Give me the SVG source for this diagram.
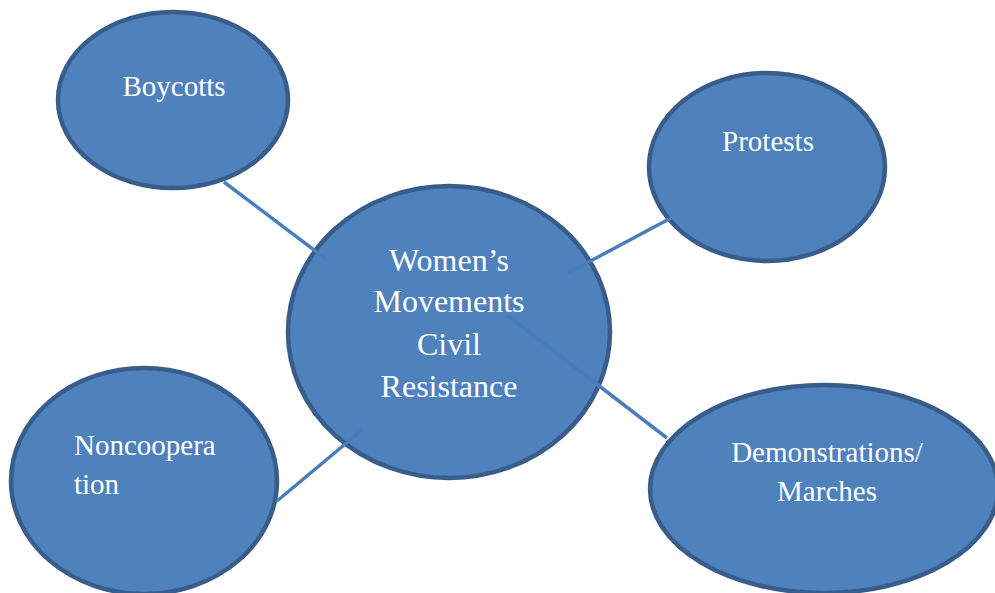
<svg xmlns="http://www.w3.org/2000/svg" width="995" height="593" viewBox="0 0 995 593">
  <style>
    .node ellipse { fill: #4F81BD; stroke: #385D8A; stroke-width: 4.5; }
    .node text { fill: #FFFFFF; font-family: "Liberation Serif", "Times New Roman", serif; font-size: 29px; }
    #hub text { font-size: 32px; }
    .c { text-anchor: middle; }
    #connectors line { stroke: #4A7EBB; stroke-width: 3.5; }
  </style>
  <rect width="995" height="593" fill="#FFFFFF"/>

  <g id="hub" class="node">
    <ellipse cx="449" cy="332" rx="161" ry="146"/>
    <text class="c" x="449" y="271">Women’s</text>
    <text class="c" x="449" y="312">Movements</text>
    <text class="c" x="449" y="355">Civil</text>
    <text class="c" x="449" y="397">Resistance</text>
  </g>

  <g id="boycotts" class="node">
    <ellipse cx="173" cy="100" rx="115" ry="88"/>
    <text class="c" x="174" y="96">Boycotts</text>
  </g>

  <g id="protests" class="node">
    <ellipse cx="767" cy="167" rx="118" ry="94"/>
    <text class="c" x="768" y="151">Protests</text>
  </g>

  <g id="noncooperation" class="node">
    <ellipse cx="144" cy="481" rx="133" ry="113"/>
    <text x="74" y="455">Noncoopera</text>
    <text x="74" y="494">tion</text>
  </g>

  <g id="demonstrations" class="node">
    <ellipse cx="824" cy="489" rx="174" ry="104"/>
    <text class="c" x="827" y="462">Demonstrations/</text>
    <text class="c" x="827" y="501">Marches</text>
  </g>

  <g id="connectors">
    <line x1="224" y1="182" x2="326" y2="259"/>
    <line x1="671" y1="218" x2="568" y2="273"/>
    <line x1="508" y1="316" x2="667" y2="438"/>
    <line x1="277" y1="501" x2="362" y2="430"/>
  </g>
</svg>
